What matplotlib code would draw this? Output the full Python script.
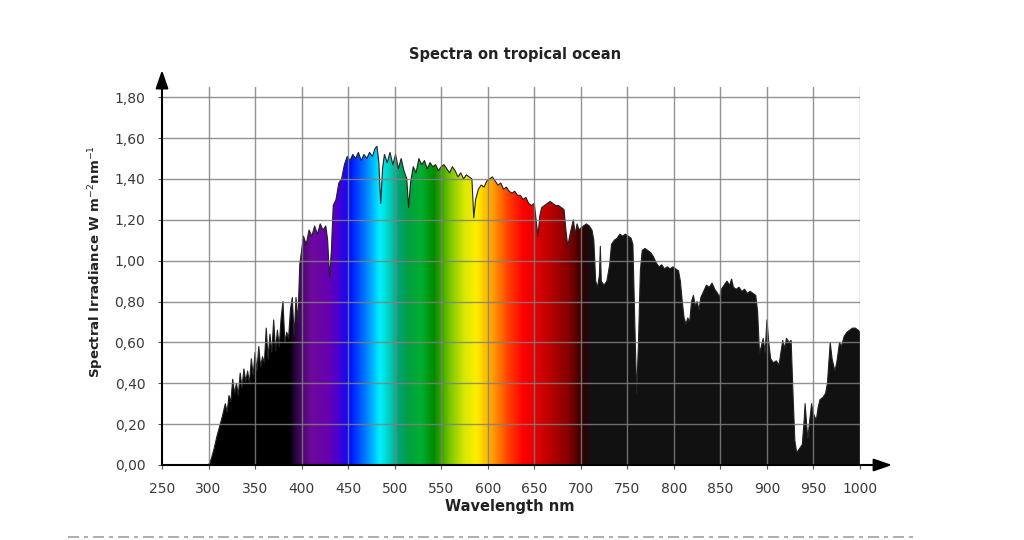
import numpy as np
import matplotlib
matplotlib.use("Agg")
import matplotlib.pyplot as plt
from matplotlib.colors import LinearSegmentedColormap
from matplotlib.lines import Line2D

# ---------------- data ----------------
wavelength = [
    250, 300, 303, 306, 309, 312, 315, 318, 320, 322, 324, 326, 328, 330, 332,
    334, 336, 338, 340, 342, 344, 346, 348, 350, 352, 354, 356, 358, 360, 362,
    364, 366, 368, 370, 372, 374, 376, 378, 380, 382, 384, 386, 388, 390, 392,
    394, 396, 398, 400, 402, 405, 408, 411, 414, 417, 420, 423, 426, 428, 430,
    432, 434, 437, 440, 443, 446, 449, 452, 455, 458, 461, 464, 467, 470, 473,
    476, 479, 481, 483, 485, 487, 489, 492, 495, 498, 501, 504, 507, 510, 513,
    515, 517, 520, 523, 526, 529, 532, 535, 538, 541, 544, 547, 550, 553, 556,
    559, 562, 565, 568, 571, 574, 577, 580, 583, 585, 587, 590, 593, 596, 599,
    602, 605, 608, 611, 614, 617, 620, 623, 626, 629, 632, 635, 638, 641, 644,
    647, 650, 652, 654, 656, 658, 661, 664, 667, 670, 673, 676, 679, 682, 684,
    686, 688, 690, 692, 694, 696, 698, 700, 703, 706, 709, 712, 714, 716, 718,
    720, 721, 722, 725, 728, 731, 733, 736, 739, 742, 745, 748, 751, 754, 756,
    758, 760, 762, 764, 766, 769, 772, 775, 778, 781, 784, 787, 790, 793, 796,
    799, 802, 805, 807, 809, 811, 813, 815, 817, 819, 821, 823, 825, 827, 829,
    832, 835, 838, 841, 844, 847, 849, 851, 854, 857, 860, 862, 864, 867, 870,
    873, 876, 879, 882, 885, 888, 890, 892, 894, 896, 898, 900, 902, 904, 907,
    910, 913, 915, 917, 919, 921, 924, 926, 928, 930, 932, 935, 938, 940, 941,
    943, 944, 946, 948, 950, 953, 955, 957, 960, 963, 965, 968, 970, 973, 975,
    978, 980, 983, 986, 989, 992, 995, 998, 1000, 1000.01,
]
irradiance = [
    0.00, 0.00, 0.03, 0.08, 0.14, 0.19, 0.24, 0.30, 0.26, 0.34, 0.31, 0.42, 0.35, 0.40, 0.34,
    0.45, 0.38, 0.47, 0.41, 0.46, 0.40, 0.52, 0.44, 0.55, 0.46, 0.58, 0.48, 0.53, 0.50, 0.67,
    0.52, 0.64, 0.55, 0.71, 0.56, 0.66, 0.58, 0.72, 0.80, 0.60, 0.65, 0.62, 0.76, 0.82, 0.63,
    0.82, 0.70, 0.98, 1.05, 1.12, 1.08, 1.15, 1.12, 1.17, 1.13, 1.18, 1.15, 1.17, 1.10, 0.92,
    1.05, 1.27, 1.30, 1.38, 1.40, 1.47, 1.51, 1.49, 1.52, 1.50, 1.53, 1.49, 1.52, 1.50, 1.53,
    1.51, 1.55, 1.56, 1.48, 1.28, 1.45, 1.52, 1.48, 1.53, 1.47, 1.52, 1.45, 1.50, 1.44, 1.40,
    1.26, 1.38, 1.46, 1.43, 1.50, 1.47, 1.49, 1.45, 1.48, 1.46, 1.47, 1.44, 1.46, 1.47, 1.45,
    1.43, 1.46, 1.44, 1.41, 1.43, 1.40, 1.42, 1.41, 1.40, 1.21, 1.30, 1.35, 1.37, 1.36, 1.39,
    1.40, 1.41, 1.39, 1.37, 1.38, 1.35, 1.36, 1.34, 1.33, 1.34, 1.32, 1.32, 1.30, 1.31, 1.28,
    1.27, 1.28, 1.20, 1.12, 1.22, 1.26, 1.27, 1.28, 1.29, 1.28, 1.27, 1.27, 1.26, 1.25, 1.15,
    1.07, 1.12, 1.16, 1.20, 1.13, 1.18, 1.15, 1.16, 1.17, 1.18, 1.17, 1.15, 1.10, 0.90, 0.87,
    0.93, 1.07, 0.90, 0.88, 0.90, 0.98, 1.08, 1.10, 1.11, 1.13, 1.12, 1.13, 1.12, 1.11, 1.08,
    0.70, 0.35, 0.60, 0.95, 1.05, 1.06, 1.05, 1.04, 1.02, 0.99, 0.97, 0.98, 0.96, 0.97, 0.96,
    0.97, 0.96, 0.95, 0.90, 0.80, 0.72, 0.69, 0.72, 0.70, 0.80, 0.83, 0.78, 0.80, 0.76, 0.82,
    0.85, 0.88, 0.87, 0.89, 0.86, 0.84, 0.82, 0.86, 0.88, 0.90, 0.88, 0.91, 0.87, 0.86, 0.87,
    0.85, 0.86, 0.84, 0.85, 0.84, 0.83, 0.75, 0.55, 0.58, 0.62, 0.55, 0.71, 0.60, 0.52, 0.50,
    0.51, 0.49, 0.55, 0.61, 0.57, 0.62, 0.60, 0.61, 0.35, 0.12, 0.06, 0.08, 0.10, 0.22, 0.30,
    0.18, 0.13, 0.22, 0.30, 0.25, 0.22, 0.28, 0.32, 0.33, 0.35, 0.40, 0.60, 0.52, 0.46, 0.50,
    0.60, 0.58, 0.63, 0.65, 0.66, 0.67, 0.67, 0.66, 0.65, 0.00,
]

x_ticks = [250, 300, 350, 400, 450, 500, 550, 600, 650, 700, 750, 800, 850, 900, 950, 1000]
y_ticks = [0.0, 0.2, 0.4, 0.6, 0.8, 1.0, 1.2, 1.4, 1.6, 1.8]
y_tick_labels = ["0,00", "0,20", "0,40", "0,60", "0,80", "1,00", "1,20", "1,40", "1,60", "1,80"]

# colour stops of the visible spectrum (wavelength nm, colour)
spectrum_stops = [
    (250, "#000000"), (386, "#000000"), (397, "#3c0858"), (410, "#6c0a9a"),
    (427, "#6a00b0"), (440, "#4600d2"), (452, "#0010ff"), (468, "#0078ff"),
    (484, "#00f0ff"), (496, "#00c8b0"), (505, "#00a070"), (516, "#00a040"),
    (528, "#00b030"), (542, "#008a00"), (560, "#80c800"), (575, "#d8e800"),
    (588, "#ffee00"), (605, "#ffa000"), (622, "#ff4000"), (638, "#ff0000"),
    (665, "#c00000"), (688, "#800000"), (702, "#300000"), (712, "#111111"),
    (1000, "#111111"),
]

# ---------------- figure ----------------
fig = plt.figure(figsize=(10.24, 5.4), dpi=100)
fig.patch.set_facecolor("white")
L, R = 162 / 1024, 860 / 1024
B, T = 1 - 465 / 540, 1 - 87 / 540
ax = fig.add_axes([L, B, R - L, T - B])

ax.set_xlim(250, 1000)
ax.set_ylim(0, 1.85)

# gradient image clipped by the spectrum polygon
positions = [(w - 250) / 750 for w, _ in spectrum_stops]
cmap = LinearSegmentedColormap.from_list("spec", list(zip(positions, [c for _, c in spectrum_stops])), N=1024)
grad = np.linspace(0, 1, 1500).reshape(1, -1)
im = ax.imshow(grad, cmap=cmap, aspect="auto", extent=[250, 1000, 0, 1.85],
               origin="lower", zorder=1, interpolation="bilinear")
poly = ax.fill_between(wavelength, 0, irradiance, facecolor="none", edgecolor="none", zorder=1)
clip_path = poly.get_paths()[0]
im.set_clip_path(clip_path, transform=ax.transData)
ax.plot(wavelength, irradiance, color="#222222", lw=0.8, zorder=2)

# grid
for xv in x_ticks[1:]:
    ax.axvline(xv, color="#808080", lw=1.0, zorder=3, alpha=0.85)
for yv in y_ticks[1:]:
    ax.axhline(yv, color="#808080", lw=1.0, zorder=3, alpha=0.85)

for s in ax.spines.values():
    s.set_visible(False)

ax.set_xticks(x_ticks)
ax.set_xticklabels([str(v) for v in x_ticks])
ax.set_yticks(y_ticks)
ax.set_yticklabels(y_tick_labels)
ax.tick_params(axis="both", labelsize=10, labelcolor="#3a3a3a", color="#555555",
               length=3, width=0.8, direction="out")
ax.tick_params(axis="x", pad=9)
ax.tick_params(axis="y", pad=9)

# axis arrows
ax.annotate("", xy=(1.046, 0), xytext=(0, 0), xycoords="axes fraction",
            arrowprops=dict(arrowstyle="-|>,head_length=1.1,head_width=0.38",
                            color="black", lw=1.5, shrinkA=0, shrinkB=0), zorder=5)
ax.annotate("", xy=(0, 1.045), xytext=(0, 0), xycoords="axes fraction",
            arrowprops=dict(arrowstyle="-|>,head_length=1.1,head_width=0.38",
                            color="black", lw=1.5, shrinkA=0, shrinkB=0), zorder=5)

# labels
fig.text(515 / 1024, 1 - 54 / 540, "Spectra on tropical ocean", ha="center", va="center",
         fontsize=10.5, fontweight="bold", color="#222222")
ax.set_xlabel("Wavelength nm", fontsize=10.5, fontweight="bold", color="#222222", va="center")
ax.xaxis.set_label_coords((510 - 162) / 698, -(507 - 465) / 378)
ax.set_ylabel("Spectral Irradiance W m$^{-2}$nm$^{-1}$", fontsize=9.5, fontweight="bold",
              color="#222222", va="center")
ax.yaxis.set_label_coords((96 - 162) / 698, (465 - 262) / 378)

# dash-dot separator line at the bottom
fig.add_artist(Line2D([68 / 1024, 915 / 1024], [1 - 537 / 540, 1 - 537 / 540],
                      transform=fig.transFigure, color="#a0a0a0", lw=1.2,
                      linestyle=(0, (6.6, 3.0, 2.4, 3.0))))

fig.savefig("out.png", dpi=100)
